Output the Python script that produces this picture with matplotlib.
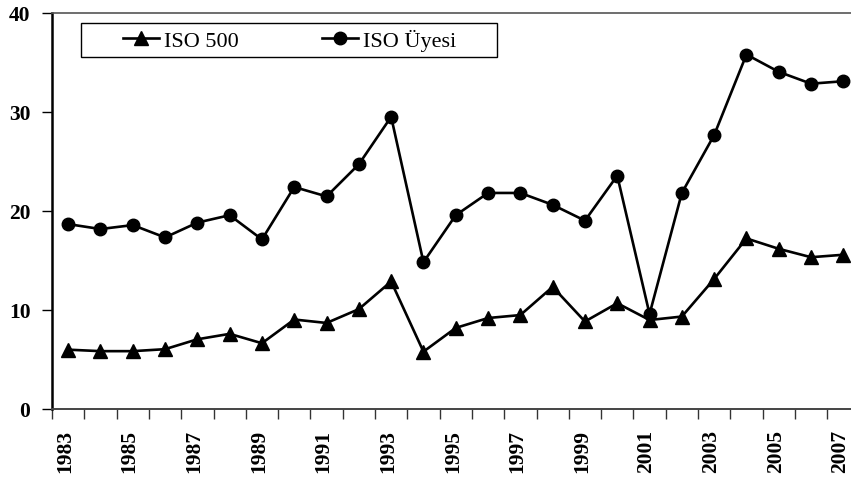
import numpy as np
import matplotlib
matplotlib.use("Agg")
import matplotlib.pyplot as plt
import matplotlib.transforms as mtransforms
from matplotlib.patches import Rectangle

plt.rcParams["font.family"] = ["Liberation Serif", "DejaVu Serif"]

years = list(range(1983, 2008))
iso_500 = [5.95, 5.8, 5.8, 6.0, 7.0, 7.55, 6.6, 9.0, 8.65, 10.05, 12.85, 5.75, 8.15,
           9.15, 9.45, 12.3, 8.8, 10.65, 8.95, 9.3, 13.1, 17.2, 16.15, 15.3, 15.55]
iso_uyesi = [18.65, 18.15, 18.55, 17.3, 18.8, 19.55, 17.1, 22.4, 21.45, 24.7, 29.5, 14.8, 19.55,
             21.8, 21.8, 20.6, 19.0, 23.55, 9.55, 21.8, 27.65, 35.8, 34.05, 32.85, 33.1]
y_ticks = [0, 10, 20, 30, 40]

W, H = 851, 481
fig = plt.figure(figsize=(W / 100, H / 100), dpi=100)

# axes placed in pixel units, category slot = 32.3 px (right edge falls off the figure)
left_px, top_px, bottom_px = 52, 14, 409.5
slot = 32.3
ax = fig.add_axes([left_px / W, (H - bottom_px) / H,
                   len(years) * slot / W, (bottom_px - top_px) / H])

x = np.arange(len(years))
l1, = ax.plot(x, iso_500, color="black", lw=1.9, marker="^", ms=10, label="ISO 500")
l2, = ax.plot(x, iso_uyesi, color="black", lw=1.9, marker="o", ms=9, label="ISO Üyesi")

ax.set_xlim(-0.5, len(years) - 0.5)
ax.set_ylim(0, 40)

ax.set_yticks(y_ticks)
ax.set_yticklabels([str(v) for v in y_ticks], fontsize=15.5, fontweight="bold")
ax.tick_params(axis="y", direction="out", length=7, width=1, pad=8.5)

ax.set_xticks(x[::2])
ax.set_xticklabels([str(y) for y in years[::2]], rotation=90, fontsize=15.5,
                   fontweight="bold", va="top")
ax.set_xticks(np.arange(-0.5, len(years) - 0.5, 1.0), minor=True)
ax.tick_params(axis="x", which="major", length=0, pad=14.5)
ax.tick_params(axis="x", which="minor", direction="out", length=7, width=1, color="#333333")

# labels sit a little left of the category centre
shift = mtransforms.ScaledTranslation(-3 / 100, 0, fig.dpi_scale_trans)
for lab in ax.get_xticklabels():
    lab.set_transform(lab.get_transform() + shift)

ax.spines["right"].set_visible(False)
ax.spines["top"].set_color("#555555")
ax.spines["top"].set_linewidth(1.2)
ax.spines["left"].set_linewidth(1.8)
ax.spines["bottom"].set_color("#444444")
ax.spines["bottom"].set_linewidth(1.4)

# legend box
bx0, by0, bx1, by1 = 80.7, 24.3, 497.3, 57.7
fig.patches.append(Rectangle((bx0 / W, (H - by1) / H), (bx1 - bx0) / W, (by1 - by0) / H,
                             transform=fig.transFigure, fill=True, facecolor="white",
                             edgecolor="black", lw=1.0, zorder=5))
leg = fig.legend(handles=[l1, l2], loc="center left",
                 bbox_to_anchor=(123 / W, (H - 41) / H), ncol=2, frameon=False,
                 fontsize=16, handlelength=1.6, handletextpad=0.25, columnspacing=3.75,
                 borderpad=0, borderaxespad=0)
leg.set_zorder(6)

fig.savefig("out.png", dpi=100)
